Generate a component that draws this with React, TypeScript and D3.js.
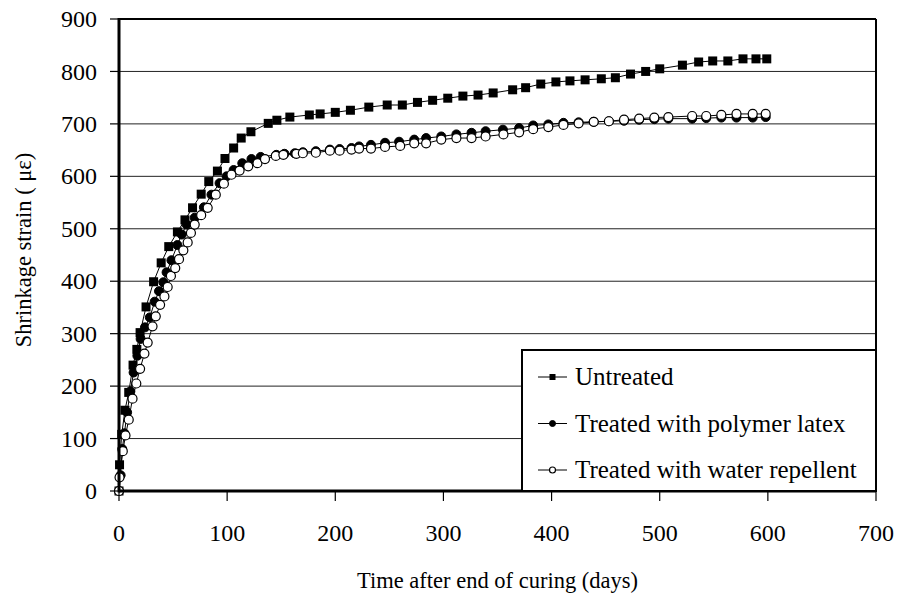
import React from "react";
import * as d3 from "d3";

const WIDTH = 898;
const HEIGHT = 599;
const FONT = "'Liberation Serif', 'Times New Roman', serif";

// days / strain
const untreatedDays = [0, 0.5, 2.5, 5.5, 9, 13, 16.5, 19.5, 25, 32, 39, 46, 54, 61, 68, 76, 83, 91, 98, 106, 113, 122, 138, 146, 158, 176, 186, 200, 214, 231, 248, 262, 276, 290, 304, 318, 332, 346, 364, 376, 390, 404, 417, 431, 446, 459, 473, 487, 500, 521, 536, 549, 563, 577, 589, 599];
const untreatedStrain = [0, 50, 108, 154, 188, 240, 270, 302, 351, 399, 435, 466, 494, 517, 540, 566, 590, 610, 634, 654, 673, 685, 701, 707, 713, 717, 719, 722, 726, 732, 736, 736, 741, 745, 749, 753, 755, 759, 765, 769, 776, 780, 782, 784, 786, 788, 795, 800, 805, 812, 818, 820, 820, 824, 824, 824];

const latexDays = [0, 1.5, 3, 5, 7.5, 10.5, 13.5, 17, 20, 24, 28.5, 33, 37, 41, 44, 48.5, 54, 58, 62.5, 70, 78.5, 85.5, 93, 99.5, 106, 114, 122.5, 131, 145.5, 153, 162.5, 170, 182, 195, 204, 215, 222, 233, 246, 259, 273, 284, 298, 312, 326, 339, 355, 370, 383, 397, 411, 425, 439, 453, 467, 481, 495, 508, 530, 543, 557, 571, 586, 598];
const latexStrain = [0, 30, 80, 110, 150, 190, 226, 258, 290, 312, 331, 361, 381, 398, 417, 440, 469, 489, 508, 521, 541, 565, 587, 600, 612, 625, 633, 637, 641, 643, 644, 646, 648, 651, 652, 654, 657, 660, 664, 666, 670, 673, 676, 680, 683, 686, 689, 692, 697, 699, 702, 703, 704, 705, 706, 708, 709, 710, 710, 711, 712, 712, 712, 713];

const repellentDays = [0, 0.5, 3.5, 6, 9, 12.5, 16, 19.5, 23.5, 26.5, 31, 34, 38, 42, 45, 48, 52, 55.5, 59.5, 63.5, 66.5, 70, 76, 82, 89.5, 97, 104, 111.5, 119.5, 128, 135, 145, 152, 164, 170, 182, 195, 204, 215, 222, 233, 246, 260, 273, 284, 298, 312, 326, 339, 355.5, 370, 383, 397, 411, 425, 439, 453, 467, 481, 495, 508, 530, 543, 557, 571, 586, 598];
const repellentStrain = [0, 26, 76, 106, 136, 176, 205, 233, 262, 283, 314, 333, 355, 371, 389, 410, 425, 442, 459, 474, 492, 508, 526, 540, 565, 586, 603, 611, 619, 625, 633, 639, 641, 643, 644, 645, 649, 649, 651, 653, 653, 656, 658, 663, 663, 670, 673, 673, 676, 680, 684, 690, 694, 698, 701, 704, 705, 708, 710, 712, 713, 715, 715, 717, 719, 719, 719];

const seriesNames = ["Untreated", "Treated with polymer latex", "Treated with water repellent"];
const xTicks = [0, 100, 200, 300, 400, 500, 600, 700];
const yTicks = [0, 100, 200, 300, 400, 500, 600, 700, 800, 900];

const MARGIN = { left: 119, right: 22, top: 19, bottom: 108 };

type Pt = [number, number];

function Marker({ kind, x, y, size }: { kind: string; x: number; y: number; size: number }) {
  if (kind === "square") {
    return <rect x={x - size / 2} y={y - size / 2} width={size} height={size} fill="black" />;
  }
  if (kind === "dot") {
    return <circle cx={x} cy={y} r={size / 2} fill="black" stroke="black" strokeWidth={1} />;
  }
  return <circle cx={x} cy={y} r={size / 2} fill="white" stroke="black" strokeWidth={1.2} />;
}

export default function App() {
  const x = d3.scaleLinear().domain([0, 700]).range([MARGIN.left, WIDTH - MARGIN.right]);
  const y = d3.scaleLinear().domain([0, 900]).range([HEIGHT - MARGIN.bottom, MARGIN.top]);

  const series = [
    { name: seriesNames[0], kind: "square", pts: untreatedDays.map((d, i) => [d, untreatedStrain[i]] as Pt) },
    { name: seriesNames[1], kind: "dot", pts: latexDays.map((d, i) => [d, latexStrain[i]] as Pt) },
    { name: seriesNames[2], kind: "open", pts: repellentDays.map((d, i) => [d, repellentStrain[i]] as Pt) },
  ];

  const line = d3
    .line<Pt>()
    .x((d) => x(d[0]))
    .y((d) => y(d[1]));

  const [x0, x1] = x.range();
  const [y0, y1] = y.range();

  const legendX = 522;
  const legendY = 350;
  const rowGap = 46.5;

  return (
    <svg
      width={WIDTH}
      height={HEIGHT}
      style={{ position: "absolute", left: 0, top: 0, background: "white" }}
      fontFamily={FONT}
    >
      {/* grid */}
      {yTicks.slice(1, -1).map((t) => (
        <line key={t} x1={x0} x2={x1} y1={y(t)} y2={y(t)} stroke="#222" strokeWidth={1} />
      ))}

      {/* series */}
      {series.map((s) => (
        <g key={s.name}>
          <path d={line(s.pts) ?? ""} fill="none" stroke="black" strokeWidth={1} />
          {s.pts.map((p, i) => (
            <Marker key={i} kind={s.kind} x={x(p[0])} y={y(p[1])} size={9} />
          ))}
        </g>
      ))}

      {/* frame */}
      <line x1={x0} x2={x1} y1={y1} y2={y1} stroke="black" strokeWidth={2} />
      <line x1={x1} x2={x1} y1={y1} y2={y0} stroke="black" strokeWidth={2} />
      <line x1={x0} x2={x1} y1={y0} y2={y0} stroke="black" strokeWidth={3} />
      <line x1={x0} x2={x0} y1={y1 - 1} y2={y0 + 1.5} stroke="black" strokeWidth={3} />

      {/* y axis ticks */}
      {yTicks.map((t) => (
        <g key={t}>
          <line x1={x0 - 9} x2={x0} y1={y(t)} y2={y(t)} stroke="black" strokeWidth={1.2} />
          <text x={x0 - 22} y={y(t)} dy="0.34em" textAnchor="end" fontSize={24}>
            {t}
          </text>
        </g>
      ))}

      {/* x axis ticks */}
      {xTicks.map((t) => (
        <g key={t}>
          <line x1={x(t)} x2={x(t)} y1={y0} y2={y0 + 10} stroke="black" strokeWidth={1.2} />
          <text x={x(t)} y={y0 + 50} textAnchor="middle" fontSize={24}>
            {t}
          </text>
        </g>
      ))}

      {/* axis titles */}
      <text x={(x0 + x1) / 2} y={588} textAnchor="middle" fontSize={22.5}>
        Time after end of curing (days)
      </text>
      <text
        transform={`translate(31, ${(y0 + y1) / 2 - 5}) rotate(-90)`}
        textAnchor="middle"
        fontSize={22.5}
      >
        Shrinkage strain ( με)
      </text>

      {/* legend */}
      <rect x={legendX} y={legendY} width={x1 - legendX} height={y0 - legendY} fill="white" stroke="black" strokeWidth={2} />
      {series.map((s, i) => {
        const cy = legendY + 27 + i * rowGap;
        return (
          <g key={s.name}>
            <line x1={legendX + 16} x2={legendX + 45} y1={cy} y2={cy} stroke="black" strokeWidth={1} />
            <Marker kind={s.kind} x={legendX + 30.5} y={cy} size={6} />
            <text x={legendX + 53} y={cy} dy="0.33em" fontSize={25}>
              {s.name}
            </text>
          </g>
        );
      })}
    </svg>
  );
}
